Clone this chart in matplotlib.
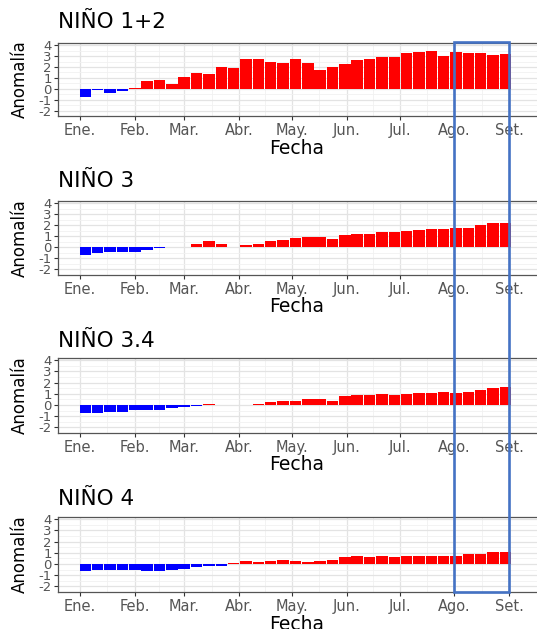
import numpy as np
import matplotlib
matplotlib.use("Agg")
import matplotlib.pyplot as plt
import matplotlib.dates as mdates
from matplotlib.patches import Rectangle
from matplotlib.transforms import blended_transform_factory

plt.rcParams['font.family'] = ['DejaVu Sans']

# weekly anomalies, 2023 (weeks centred on Wednesdays)
weeks = np.arange(np.datetime64('2023-01-04'), np.datetime64('2023-09-01'), 7)

regions = ["NIÑO 1+2", "NIÑO 3", "NIÑO 3.4", "NIÑO 4"]

nino12 = [-0.8, -0.15, -0.35, -0.2, 0.1, 0.75, 0.8, 0.4, 1.1, 1.45, 1.35, 2.0,
          1.9, 2.7, 2.7, 2.5, 2.4, 2.7, 2.35, 1.7, 2.0, 2.3, 2.6, 2.7, 2.9, 2.9,
          3.3, 3.4, 3.5, 3.0, 3.4, 3.3, 3.3, 3.1, 3.2]
nino3 = [-0.7, -0.5, -0.4, -0.4, -0.4, -0.25, -0.1, 0.0, 0.05, 0.35, 0.6, 0.35,
         0.05, 0.2, 0.35, 0.6, 0.7, 0.85, 0.9, 0.9, 0.8, 1.1, 1.2, 1.2, 1.4, 1.4,
         1.5, 1.6, 1.7, 1.7, 1.8, 1.8, 2.0, 2.2, 2.25]
nino34 = [-0.75, -0.7, -0.6, -0.6, -0.45, -0.45, -0.45, -0.3, -0.15, -0.1, 0.1,
          0.0, 0.0, 0.0, 0.1, 0.3, 0.35, 0.35, 0.5, 0.5, 0.4, 0.8, 0.9, 0.9, 1.0,
          0.9, 1.0, 1.1, 1.1, 1.2, 1.1, 1.2, 1.3, 1.5, 1.6]
nino4 = [-0.65, -0.55, -0.55, -0.55, -0.5, -0.6, -0.6, -0.5, -0.45, -0.25, -0.15,
         -0.15, 0.05, 0.3, 0.2, 0.3, 0.4, 0.3, 0.15, 0.25, 0.4, 0.6, 0.7, 0.6, 0.7,
         0.6, 0.7, 0.7, 0.75, 0.75, 0.75, 0.9, 0.9, 1.1, 1.05]
series = [nino12, nino3, nino34, nino4]

month_labels = ["Ene.", "Feb.", "Mar.", "Abr.", "May.", "Jun.", "Jul.", "Ago.", "Set."]
y_ticks = [-2, -1, 0, 1, 2, 3, 4]

# Layout (pixels)
W, H = 537, 629
fig = plt.figure(figsize=(W / 100, H / 100), dpi=100)

ax_left, ax_right = 58, 539
panels = [(43, 116), (201, 275), (358, 433), (517, 592)]
title_base = [28, 187, 347, 505]

x = mdates.date2num(weeks)
months = np.arange(np.datetime64('2023-01'), np.datetime64('2023-10'), dtype='datetime64[M]')
month_num = mdates.date2num(months.astype('datetime64[D]'))
minor_num = (month_num[:-1] + month_num[1:]) / 2
jan1 = month_num[0]

axes = []
for (top, bot), name, vals, tb in zip(panels, regions, series, title_base):
    ax = fig.add_axes([ax_left / W, 1 - bot / H, (ax_right - ax_left) / W, (bot - top) / H])
    axes.append(ax)
    vals = np.array(vals)
    colors = np.where(vals < 0, '#0000FF', '#FF0000')
    ax.bar(x, vals, width=6.5, color=colors, linewidth=0, zorder=3)

    ax.set_xlim(jan1 - 12.5, jan1 + 260)
    ax.set_ylim(-2.25, 4.2)
    ax.set_xticks(month_num)
    ax.set_xticklabels(month_labels)
    ax.set_xticks(minor_num, minor=True)
    ax.set_yticks(y_ticks)
    ax.set_yticklabels([str(v) for v in y_ticks])
    ax.set_yticks(np.arange(-2.5, 4.5, 1.0), minor=True)

    ax.grid(True, which='major', color='#E3E3E3', linewidth=0.9, zorder=0)
    ax.grid(True, which='minor', color='#F1F1F1', linewidth=0.6, zorder=0)
    ax.set_axisbelow(True)

    ax.tick_params(which='major', length=3, width=0.8, color='#333333',
                   labelcolor='#555555', labelsize=10.5, pad=2)
    ax.tick_params(axis='y', labelsize=9.5, pad=1.5)
    ax.tick_params(which='minor', length=0)
    for sp in ax.spines.values():
        sp.set_color('#555555')
        sp.set_linewidth(0.9)

    fig.text(ax_left / W, 1 - tb / H, name, fontsize=15.5, ha='left', va='baseline')
    fig.text(297 / W, 1 - (bot + 32) / H, "Fecha", fontsize=13.5, ha='center', va='center')
    fig.text(20 / W, 1 - (top + bot) / 2 / H, "Anomalía", fontsize=12,
             rotation=90, ha='center', va='center')

# highlight box over Aug-Sep across all panels
trans = blended_transform_factory(axes[0].transData, fig.transFigure)
aug1, sep1 = month_num[7], month_num[8]
box = Rectangle((aug1, 1 - 592 / H), sep1 - aug1, (592 - 42) / H,
                transform=trans, fill=False, edgecolor='#4472C4', linewidth=1.9,
                clip_on=False, zorder=10)
fig.add_artist(box)

fig.savefig("out.png", dpi=100)
